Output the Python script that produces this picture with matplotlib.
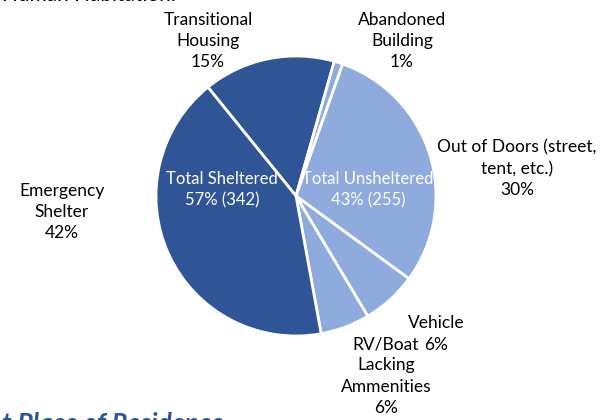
import matplotlib.pyplot as plt

# counts per last place of residence (sheltered 342, unsheltered 255)
labels = ["Transitional\nHousing", "Abandoned\nBuilding", "Out of Doors (street,\ntent, etc.)",
          "Vehicle", "RV/Boat\nLacking\nAmmenities", "Emergency\nShelter"]
counts = [91, 6, 177, 38, 34, 251]
pct_text = ["15%", "1%", "30%", "6%", "6%", "42%"]
group_text = ["Total Sheltered\n57% (342)", "Total Unsheltered\n43% (255)"]

dark = "#2F5597"
light = "#8FAADC"
colors = [dark, light, light, light, light, dark]

W, H = 616, 420
fig = plt.figure(figsize=(W / 100, H / 100), dpi=100)
ax = fig.add_axes([0, 0, 1, 1])
ax.set_xlim(0, W)
ax.set_ylim(0, H)
ax.set_aspect("equal")
ax.axis("off")

plt.rcParams["font.family"] = ["Lato", "DejaVu Sans"]

ax.pie(counts, colors=colors, center=(296, H - 196), radius=140, startangle=129,
       counterclock=False, wedgeprops=dict(edgecolor="white", linewidth=2))
ax.set_xlim(0, W)
ax.set_ylim(0, H)


def txt(x, y, s, size=12.5, **kw):
    ax.text(x, H - y, s, ha="center", va="center", fontsize=size,
            linespacing=1.4, **kw)


# outside labels (x, y of block centre in pixels)
label_pos = [(208, 41), (402, 41), (517, 169), (436, 334), (386, 376), (62, 212)]
for (x, y), lab, p in zip(label_pos, labels, pct_text):
    txt(x, y, lab + "\n" + p, color="black")

# group totals inside the pie
txt(222, 190, group_text[0], size=12, color="white")
txt(368, 190, group_text[1], size=12, color="white")

# clipped text from surrounding page
ax.text(2, H - 1, "Human Habitation:", ha="left", va="baseline", fontsize=15, color="black")
ax.text(2, H - 432, "t Place of Residence", ha="left", va="baseline", fontsize=19,
        color=dark, fontweight="bold", fontstyle="italic")

fig.savefig("out.png", dpi=100)
